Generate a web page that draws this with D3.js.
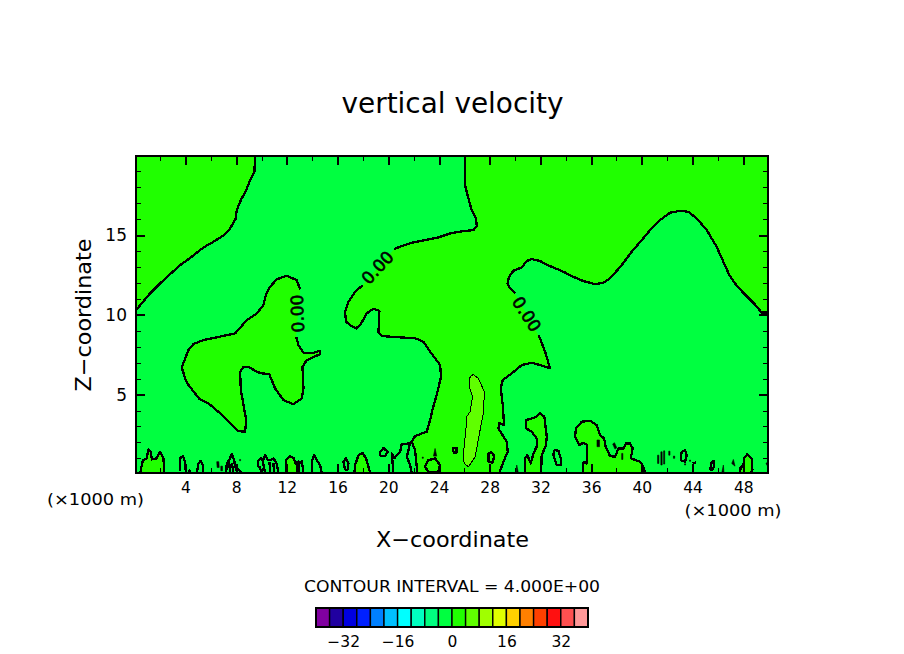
<!DOCTYPE html>
<html>
<head>
<meta charset="utf-8">
<script src="https://cdn.jsdelivr.net/npm/d3@7/dist/d3.min.js"></script>
<style>
	html, body { margin: 0; padding: 0; background: #fff; }
	svg { display: block; }
	text { font-family: "DejaVu Sans", sans-serif; fill: #000; }
</style>
</head>
<body>
<svg id="chart" width="904" height="654"></svg>
<script>
// all contours are in data units: [x (km), z (km)]
var xMajor = [4, 8, 12, 16, 20, 24, 28, 32, 36, 40, 44, 48];
var xMinor = [2, 6, 10, 14, 18, 22, 26, 30, 34, 38, 42, 46];
var zMajor = [5, 10, 15];
var zMinor = [1, 2, 3, 4, 6, 7, 8, 9, 11, 12, 13, 14, 16, 17, 18, 19];

var barColors = ["#8000a0", "#2000a0", "#0000e0", "#0020ff", "#0080ff", "#00c0ff", "#00ffff", "#00ffc0", "#00ff80", "#00ff40",
	"#20ff00", "#60ff00", "#a0ff00", "#e0ff00", "#ffd000", "#ff8000", "#ff4000", "#ff1010", "#ff5050", "#ff9898"];
var barLevels = d3.range(-40, 41, 4);
var barTicks = [-32, -16, 0, 16, 32];

// zero contour, upper left corner
var cornerLine = [[9.50,19.97],[9.44,18.98],[9.05,18.35],[8.79,17.83],[8.37,17.20],[8.05,16.57],[7.94,15.99],[7.52,15.42],[7.05,15.01],
	[6.21,14.59],[5.42,14.23],[4.50,13.65],[3.58,13.12],[2.27,12.18],[1.21,11.35],[0.10,10.30]];

// zero contour, island on the left
var islandLine = [[13.04,11.60],[12.78,12.18],[11.99,12.46],[11.20,12.23],[10.68,11.77],[10.34,11.24],[10.15,10.62],[9.63,10.09],[8.84,9.67],
	[7.92,8.84],[7.26,8.73],[6.47,8.59],[5.42,8.42],[4.63,8.17],[4.24,7.79],[3.98,7.27],[3.71,6.70],[3.98,6.01],[4.24,5.60],[5.11,4.72],
	[5.82,4.45],[6.74,3.82],[7.52,3.19],[8.18,2.71],[8.71,2.67],[8.79,3.40],[8.63,4.13],[8.37,5.28],[8.31,6.43],[8.58,6.75],[8.97,6.75],
	[9.63,6.43],[10.02,6.33],[10.60,6.29],[10.81,5.91],[11.07,5.39],[11.73,4.65],[12.52,4.40],[13.18,4.76],[13.31,5.39],[13.23,6.75],
	[13.57,7.16],[14.62,7.54],[14.57,7.75],[14.10,7.62],[13.31,7.62],[12.91,8.11],[12.73,8.63]];

// zero contour, west side of the big central region (broken by a label)
var westUpper = [[26.06,19.97],[26.06,18.14],[26.32,17.31],[26.58,16.57],[26.92,16.05],[26.98,15.57],[26.71,15.32],[25.93,15.26],[24.87,15.11],
	[23.95,14.86],[22.90,14.69],[21.98,14.55],[21.06,14.32],[20.46,14.13]];
var westLower = [[17.99,11.87],[17.38,11.45],[16.86,10.82],[16.59,10.20],[16.67,9.57],[16.99,9.36],[17.46,9.15],[17.83,9.42],[18.30,10.09],
	[18.83,10.39],[19.30,10.26],[19.25,9.26],[19.22,8.94],[19.49,8.67],[20.93,8.59],[22.11,8.54],[22.77,8.31],[23.30,7.69],[24.09,6.85],
	[24.16,6.12],[23.82,4.97],[23.51,4.13],[23.30,3.40],[23.03,2.67],[22.11,2.40],[21.85,2.04],[22.11,1.52],[22.30,0.08]];

// zero contour, east side with the hump (broken by a label)
var eastUpper = [[49.95,10.15],[49.45,10.15],[48.85,10.72],[47.88,11.49],[47.35,11.97],[46.90,12.50],[46.43,13.33],[45.90,14.27],[45.12,15.32],
	[44.33,16.05],[43.67,16.47],[43.01,16.53],[42.22,16.41],[41.44,15.95],[40.65,15.32],[39.99,14.69],[39.20,13.96],[38.41,13.12],[37.49,12.29],
	[36.97,12.02],[36.31,11.93],[35.39,12.12],[34.60,12.39],[33.81,12.71],[32.76,13.06],[31.97,13.38],[31.32,13.50],[30.92,13.38],[30.53,12.98],
	[29.87,12.77],[29.53,12.39],[29.40,11.97],[29.61,11.66],[30.00,11.35]];
var eastLower = [[31.84,8.73],[31.97,8.52],[32.37,7.69],[32.76,6.64],[31.97,6.85],[31.31,7.00],[30.53,6.85],[29.74,6.33],[29.03,5.91],[28.87,5.39],
	[29.03,4.34],[29.13,3.09],[28.76,3.23],[28.69,2.88],[29.34,2.04],[29.42,1.41],[29.08,0.79],[28.76,0.08]];

// +4 contour inside the central region
var plusFour = [[26.45,6.12],[26.71,6.26],[27.11,6.01],[27.58,5.18],[27.50,3.82],[27.24,2.77],[26.85,1.10],[26.32,0.47],[25.98,0.68],[25.93,1.31],
	[26.14,2.98],[26.14,3.57],[26.45,3.92],[26.64,4.86],[26.40,5.49],[26.45,6.12]];

// small cells along the ground that hold positive values
var groundCells = [
	[[0.43,0.08],[0.64,0.89],[0.95,1.00],[1.08,1.56],[1.27,1.41],[1.35,0.93],[1.74,1.00],[2.00,1.41],[2.27,1.00],[2.32,0.08]],
	[[11.92,0.08],[11.92,0.89],[12.26,1.14],[12.57,1.00],[12.65,0.68],[12.91,0.79],[12.99,0.08]],
	[[17.33,0.08],[17.38,0.58],[17.65,1.20],[17.96,1.35],[18.25,0.99],[18.57,0.08]],
	[[30.79,0.08],[30.79,1.00],[30.97,1.20],[31.24,0.68],[31.45,1.31],[31.76,1.83],[31.71,2.25],[31.31,2.67],[30.87,2.88],[30.87,3.40],[31.58,3.57],
		[31.97,3.82],[32.31,3.61],[32.50,2.35],[32.44,1.83],[32.10,1.20],[32.05,0.08]],
	[[35.34,0.08],[35.34,0.68],[35.52,0.79],[35.65,0.68],[35.70,1.83],[35.39,1.98],[35.07,1.83],[34.73,2.35],[34.81,2.88],[35.26,3.30],[35.92,3.36],
		[36.44,3.09],[36.70,2.46],[37.02,2.25],[37.15,1.73],[37.49,1.14],[37.89,1.10],[38.15,1.62],[38.54,1.62],[38.75,1.94],[39.07,1.94],[39.28,1.62],
		[39.12,1.00],[39.86,0.79],[40.12,0.47],[40.25,0.08]],
	[[47.74,0.08],[47.80,0.47],[48.01,0.51],[48.06,1.00],[48.32,1.27],[48.66,1.00],[48.72,0.26],[48.53,0.08]]
];

// open contours rising from the ground
var groundLines = [
	[[3.58,0.22],[3.58,1.00],[3.79,1.14],[3.97,0.79],[3.97,0.26]],
	[[4.89,0.08],[5.03,0.68],[5.21,0.85],[5.37,0.58],[5.42,0.08]],
	[[4.24,0.08],[4.32,0.26],[4.42,0.08]],
	[[7.21,0.08],[7.26,0.68],[7.44,0.89],[7.66,1.25],[7.84,0.89],[8.00,0.47],[8.44,0.08]],
	[[7.44,0.89],[7.52,0.08]],
	[[7.66,0.68],[7.79,0.08]],
	[[7.84,0.89],[7.92,0.47],[8.12,0.08]],
	[[9.76,0.47],[9.71,0.79],[9.94,1.00],[10.10,0.85],[10.28,1.20],[10.47,0.93],[10.68,0.89],[10.94,1.00],[11.20,0.68],[11.34,0.08]],
	[[9.76,0.47],[9.84,0.47],[10.02,0.08]],
	[[10.10,0.79],[10.28,0.08]],
	[[10.63,0.79],[10.68,0.08]],
	[[10.94,0.68],[10.99,0.08]],
	[[13.04,0.68],[13.18,0.85],[13.31,0.08]],
	[[12.78,0.08],[12.86,0.68]],
	[[13.96,0.08],[13.96,0.79],[14.15,1.20],[14.36,0.89],[14.62,0.58],[14.75,0.08]],
	[[21.85,2.04],[21.72,1.94],[21.06,1.89],[20.93,1.41],[20.46,1.00],[20.27,1.31],[20.41,0.08]],
	[[21.72,1.94],[21.46,1.10],[21.72,0.58],[21.85,0.08]],
	[[44.01,0.68],[44.27,0.75]]
];

// closed rings that are not filled
var groundRings = [
	[[16.59,0.26],[16.46,0.79],[16.65,1.00],[16.86,0.68],[16.78,0.26],[16.59,0.26]],
	[[19.30,1.37],[19.62,1.64],[19.96,1.41],[19.75,1.14],[19.41,1.14],[19.30,1.37]],
	[[22.90,0.47],[23.16,0.89],[23.69,0.99],[24.08,0.58],[23.95,0.16],[23.16,0.16],[22.90,0.47]],
	[[25.10,1.37],[25.10,1.67],[25.38,1.67],[25.38,1.37],[25.10,1.37]],
	[[27.90,0.79],[27.90,1.27],[28.11,1.41],[28.37,1.14],[28.21,0.72],[27.90,0.79]],
	[[33.10,1.52],[33.02,1.20],[33.29,0.58],[33.60,0.58],[33.60,1.00],[33.42,1.48],[33.10,1.52]],
	[[43.06,0.89],[43.14,1.41],[43.41,1.52],[43.54,1.20],[43.41,0.79],[43.06,0.89]],
	[[45.38,0.26],[45.51,0.79],[45.69,0.85],[45.69,0.47],[45.51,0.26],[45.38,0.26]]
];

// tiny cells that came out almost solid black
var groundSpecks = [
	[[6.47,0.79],[6.63,0.79],[6.66,0.43],[6.50,0.43]],
	[[6.79,0.51],[6.92,0.51],[6.92,0.22],[6.79,0.22]],
	[[8.27,0.93],[8.35,0.93],[8.35,0.85],[8.27,0.85]],
	[[22.68,1.08],[22.76,1.08],[22.76,1.00],[22.68,1.00]],
	[[23.56,1.14],[23.69,1.62],[23.82,1.14]],
	[[30.08,0.08],[30.13,0.58],[30.26,0.08]],
	[[36.46,2.15],[36.66,2.15],[36.66,1.73],[36.46,1.73]],
	[[37.70,1.90],[37.84,1.98],[38.02,1.66],[37.88,1.58]],
	[[38.41,1.31],[38.50,1.31],[38.50,0.93],[38.41,0.93]],
	[[41.24,1.20],[41.34,1.20],[41.34,0.68],[41.24,0.68]],
	[[41.50,1.41],[41.60,1.41],[41.60,0.58],[41.50,0.58]],
	[[41.72,1.47],[41.80,1.47],[41.80,0.64],[41.72,0.64]],
	[[42.12,1.45],[42.22,1.45],[42.22,1.20],[42.12,1.20]],
	[[42.49,1.14],[42.59,1.14],[42.59,1.00],[42.49,1.00]],
	[[43.37,0.66],[43.45,0.66],[43.45,0.58],[43.37,0.58]],
	[[43.76,0.89],[43.84,0.89],[43.84,0.81],[43.76,0.81]],
	[[46.30,0.08],[46.43,0.58],[46.48,0.08]],
	[[47.09,0.68],[47.22,0.93],[47.35,0.51]],
	[[49.79,0.68],[49.95,0.79],[49.95,0.47]]
];

var contourLabels = [
	{ text: "0.00", x: 12.83, z: 10.09, angle: -92 },
	{ text: "0.00", x: 19.14, z: 12.98, angle: -47 },
	{ text: "0.00", x: 30.92, z: 10.05, angle: 57 }
];

var svg = d3.select("#chart");

var x = d3.scaleLinear().domain([0.1, 49.95]).range([136, 768]);
var z = d3.scaleLinear().domain([0.08, 19.97]).range([473, 156]);
var line = d3.line().x(function(d) { return x(d[0]); }).y(function(d) { return z(d[1]); });

var negColor = barColors[9], posColor = barColors[10], pos2Color = barColors[11];

// shaded bands
svg.append("rect")
	.attr("x", x(0.1)).attr("y", z(19.97))
	.attr("width", x(49.95) - x(0.1)).attr("height", z(0.08) - z(19.97))
	.attr("fill", negColor);

var bandPolys = [
	cornerLine.concat([[0.1, 19.97]]),
	islandLine,
	westUpper.concat(westLower, eastLower.slice().reverse(), eastUpper.slice().reverse(), [[49.95, 19.97]])
].concat(groundCells);

svg.append("g").selectAll("path").data(bandPolys).enter().append("path")
	.attr("d", function(d) { return line(d) + "Z"; })
	.attr("fill", posColor);

svg.append("path")
	.attr("d", line(plusFour) + "Z")
	.attr("fill", pos2Color)
	.attr("stroke", "#000")
	.attr("stroke-width", 1)
	.attr("shape-rendering", "crispEdges");

// contour lines
var contourLines = [cornerLine, islandLine, westUpper, westLower, eastUpper, eastLower]
	.concat(groundCells, groundLines, groundRings);

svg.append("g")
	.attr("fill", "none")
	.attr("stroke", "#000")
	.attr("stroke-width", 2.3)
	.attr("stroke-linejoin", "round")
	.attr("shape-rendering", "crispEdges")
	.selectAll("path").data(contourLines).enter().append("path")
	.attr("d", line);

svg.append("g")
	.attr("fill", "#000")
	.attr("stroke", "#000")
	.attr("stroke-width", 0.6)
	.selectAll("path").data(groundSpecks).enter().append("path")
	.attr("d", function(d) { return line(d) + "Z"; });

svg.append("g").selectAll("text").data(contourLabels).enter().append("text")
	.attr("transform", function(d) { return "translate(" + x(d.x) + "," + z(d.z) + ") rotate(" + d.angle + ")"; })
	.attr("text-anchor", "middle")
	.attr("dy", "0.36em")
	.attr("font-size", 17)
	.attr("stroke", "#000")
	.attr("stroke-width", 0.6)
	.text(function(d) { return d.text; });

// axes, ticks point into the plot on all four sides
function addAxis(axis, tx, ty, ticks, size, labels, padding) {
	var g = svg.append("g")
		.attr("transform", "translate(" + tx + "," + ty + ")")
		.call(axis.tickValues(ticks).tickSizeInner(-size).tickSizeOuter(0).tickPadding(padding)
			.tickFormat(labels ? d3.format("d") : ""));
	g.select(".domain").remove();
	g.selectAll("line").attr("stroke", "#000").attr("stroke-width", size > 6 ? 2 : 1).attr("shape-rendering", "crispEdges");
	return g;
}

var bottomAxis = addAxis(d3.axisBottom(x), 0, 473, xMajor, 9, true, 9);
bottomAxis.selectAll("text").attr("font-size", 15.5).attr("font-family", "DejaVu Sans");
addAxis(d3.axisBottom(x), 0, 473, xMinor, 5, false, 0);
addAxis(d3.axisTop(x), 0, 156, xMajor, 9, false, 0);
addAxis(d3.axisTop(x), 0, 156, xMinor, 5, false, 0);

var leftAxis = addAxis(d3.axisLeft(z), 136, 0, zMajor, 9, true, 9);
leftAxis.selectAll("text").attr("font-size", 17).attr("font-family", "DejaVu Sans");
addAxis(d3.axisLeft(z), 136, 0, zMinor, 5, false, 0);
addAxis(d3.axisRight(z), 768, 0, zMajor, 9, false, 0);
addAxis(d3.axisRight(z), 768, 0, zMinor, 5, false, 0);

svg.append("rect")
	.attr("x", x(0.1)).attr("y", z(19.97))
	.attr("width", x(49.95) - x(0.1)).attr("height", z(0.08) - z(19.97))
	.attr("fill", "none")
	.attr("stroke", "#000")
	.attr("stroke-width", 2)
	.attr("shape-rendering", "crispEdges");

// titles and captions
function caption(str, cx, cy, size, len, rotate) {
	var t = svg.append("text")
		.attr("text-anchor", "middle")
		.attr("font-size", size)
		.attr("textLength", len)
		.attr("lengthAdjust", "spacingAndGlyphs")
		.text(str);
	t.attr("transform", "translate(" + cx + "," + cy + ")" + (rotate ? " rotate(" + rotate + ")" : ""));
	return t;
}

caption("vertical velocity", 452.5, 113, 28, 222);
caption("X\u2212coordinate", 452.5, 547, 22, 153);
caption("Z\u2212coordinate", 91, 315, 22, 153, -90);
caption("(\u00d71000 m)", 95.5, 505, 16, 97);
caption("(\u00d71000 m)", 733, 516, 16, 97);
caption("CONTOUR INTERVAL = 4.000E+00", 452, 592, 16, 296);

// colour bar
var barScale = d3.scaleLinear().domain([-40, 40]).range([316, 588]);

svg.append("g").selectAll("rect").data(barColors).enter().append("rect")
	.attr("x", function(d, i) { return barScale(barLevels[i]); })
	.attr("y", 608)
	.attr("width", function(d, i) { return barScale(barLevels[i + 1]) - barScale(barLevels[i]); })
	.attr("height", 19)
	.attr("fill", function(d) { return d; })
	.attr("stroke", "#000")
	.attr("stroke-width", 1.4);

svg.append("rect")
	.attr("x", barScale(-40)).attr("y", 608)
	.attr("width", barScale(40) - barScale(-40)).attr("height", 19)
	.attr("fill", "none")
	.attr("stroke", "#000")
	.attr("stroke-width", 2);

var barAxis = svg.append("g")
	.attr("transform", "translate(0,627)")
	.call(d3.axisBottom(barScale).tickValues(barTicks).tickSize(0).tickPadding(9));
barAxis.select(".domain").remove();
barAxis.selectAll("text")
	.attr("font-size", 15.5)
	.attr("font-family", "DejaVu Sans");
</script>
</body>
</html>
